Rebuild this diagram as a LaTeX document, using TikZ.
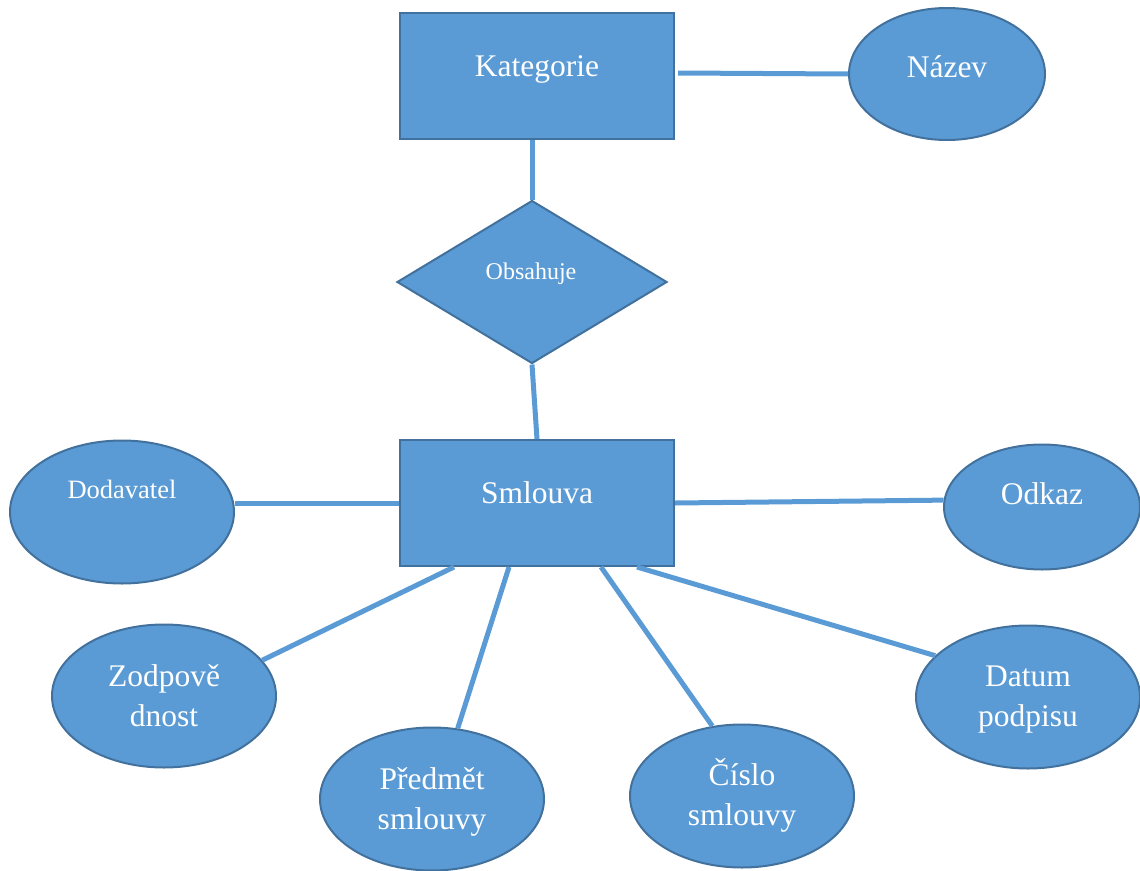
\documentclass[tikz,border=0pt]{standalone}
\usepackage{fontspec}
\setmainfont{Liberation Serif}
\usetikzlibrary{shapes.geometric,calc}
\definecolor{boxfill}{HTML}{5B9BD5}
\definecolor{boxedge}{HTML}{41719C}
\tikzset{
  shapebase/.style={draw=boxedge, fill=boxfill, line width=2pt, inner sep=0pt},
  entity/.style={shapebase, rectangle, minimum width=274pt, minimum height=126pt},
  attr/.style={shapebase, ellipse, minimum width=224pt, minimum height=143pt},
  rel/.style={shapebase, diamond, minimum width=270pt, minimum height=163pt},
  lbl/.style={text=white, font=\fontsize{31.5}{40}\selectfont, align=center, anchor=base, inner sep=0pt},
  link/.style={draw=boxfill, line width=5pt}
}
\begin{document}
\begin{tikzpicture}[x=1pt, y=-1pt]
\useasboundingbox (0,0) rectangle (1140,870);

% shapes
\node[entity] (kat) at (537,76) {};
\node[attr, minimum width=196pt, minimum height=132pt] (naz) at (947,74) {};
\node[rel] (obs) at (532,282) {};
\node[entity] (sml) at (537,503) {};
\node[attr] (dod) at (122,512) {};
\node[attr, minimum width=196pt, minimum height=125pt] (odk) at (1042,507) {};
\node[attr] (zod) at (164,696) {};
\node[attr] (pre) at (432,799) {};
\node[attr] (cis) at (742,796) {};
\node[attr] (dat) at (1028,697) {};

% connectors
\draw[link] ($(kat.east)+(3,-3)$) -- (naz.west);
\draw[link] (obs.north |- kat.south) -- (obs.north);
\draw[link] (obs.south) -- (sml.north);
\draw[link] (sml.west) -- (sml.west -| dod.east);
\draw[link] (sml.east) -- (odk.176);
\draw[link] ($(sml.south west)+(55,0)$) -- (zod.20);
\draw[link] ($(sml.south west)+(110,0)$) -- (pre.70);
\draw[link] ($(sml.south west)+(202,0)$) -- (cis.113);
\draw[link] ($(sml.south west)+(238,0)$) -- (dat.156);

% labels (base anchor sits on the last line's baseline)
\node[lbl] (katT) at (537,76) {Kategorie};
\node[lbl] (nazT) at (947,77) {Název};
\node[lbl, font=\fontsize{24}{30}\selectfont] (obsT) at (531,279) {Obsahuje};
\node[lbl] (smlT) at (537,503) {Smlouva};
\node[lbl, font=\fontsize{26.5}{34}\selectfont] (dodT) at (122,498) {Dodavatel};
\node[lbl] (odkT) at (1042,504) {Odkaz};
\node[lbl] (zodT) at (164,726) {Zodpově\\dnost};
\node[lbl] (preT) at (432,829) {Předmět\\smlouvy};
\node[lbl] (cisT) at (742,825) {Číslo\\smlouvy};
\node[lbl] (datT) at (1028,726) {Datum\\podpisu};
\end{tikzpicture}
\end{document}
